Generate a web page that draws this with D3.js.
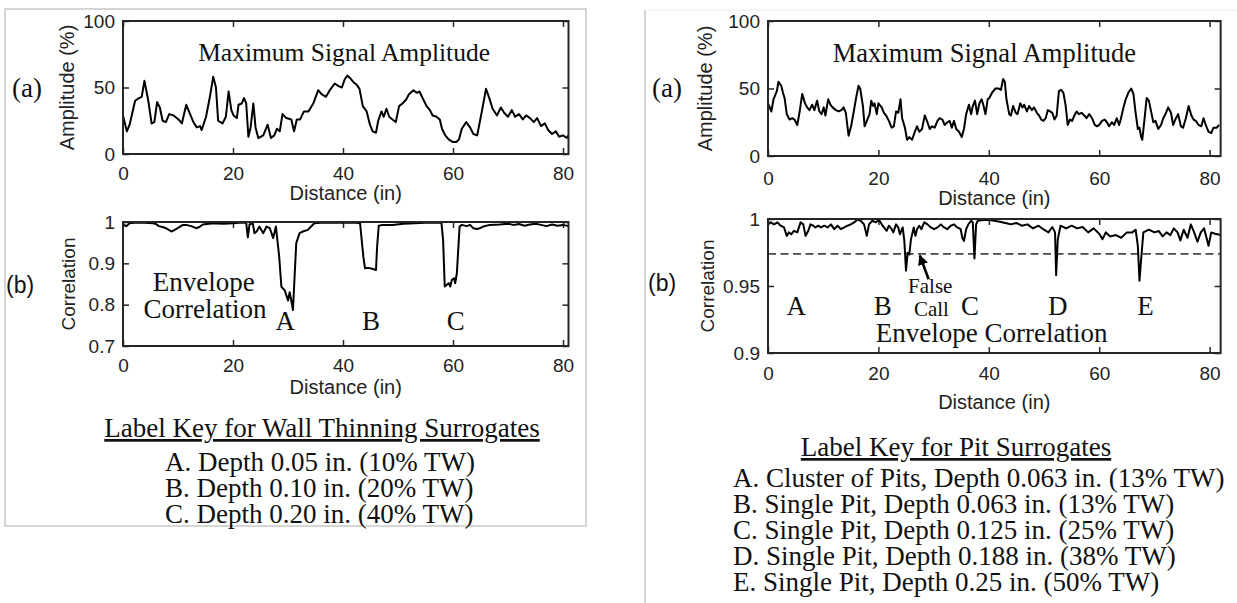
<!DOCTYPE html>
<html><head><meta charset="utf-8">
<script src="https://cdn.jsdelivr.net/npm/d3@7"></script>
<style>body{margin:0;background:#fff}svg{display:block}</style>
</head><body>
<svg id="c" width="1237" height="603"></svg>
<script>
// ---------------- DATA ----------------
const xTicks = [0, 20, 40, 60, 80];
const ampTicks = [0, 50, 100];
const corrWallTicks = [0.7, 0.8, 0.9, 1];
const corrPitTicks = [0.9, 0.95, 1];

// Wall thinning: maximum signal amplitude (%), [distance in, amplitude]
const ampWall = [[0,29],[0.7,17],[1.2,22],[2.2,40],[2.9,42],[3.4,43],[3.9,55],[4.6,40],[5.2,23],[5.7,24],[6.2,39],[6.7,35],[7.2,25],[7.8,24],[8.4,30],[9.2,29],[10.1,26],[10.7,23],[11.5,37],[12.2,30],[12.8,24],[13.4,20],[14.0,21],[14.3,18],[15.1,28],[15.8,43],[16.4,58],[16.9,50],[17.3,25],[18.1,23],[18.7,28],[19.2,47],[19.7,33],[20.1,29],[20.7,27],[21.0,37],[21.6,38],[22.0,42],[22.4,38],[22.8,13],[23.2,20],[23.7,38],[24.1,20],[24.6,12],[25.5,14],[26.3,22],[26.9,12],[27.5,14],[28.0,19],[28.5,17],[29.0,30],[29.7,27],[30.6,26],[31.1,17],[31.6,26],[32.2,26],[32.9,32],[33.7,32],[34.6,38],[35.5,48],[36.1,45],[36.9,43],[37.6,48],[38.5,53],[39.2,51],[39.8,50],[40.3,56],[40.8,59],[41.3,57],[41.9,54],[42.5,52],[43.0,49],[43.6,36],[44.3,32],[44.9,22],[45.4,17],[46.0,16],[46.4,25],[47.0,32],[47.4,28],[47.9,34],[48.4,28],[49.0,26],[49.6,24],[50.2,36],[50.8,38],[51.5,41],[52.0,45],[52.8,48],[53.4,46],[53.9,47],[54.6,41],[55.2,36],[55.8,33],[56.3,29],[57.0,28],[57.6,26],[58.0,19],[58.6,14],[59.2,11],[60.0,9],[60.6,9],[61.1,11],[61.6,19],[62.4,24],[63.1,20],[63.7,15],[64.4,14],[65.2,31],[66.0,49],[66.6,42],[67.2,34],[68.0,29],[68.7,35],[69.3,31],[70.0,28],[70.7,33],[71.3,28],[72.0,30],[72.7,26],[73.3,29],[74.0,27],[74.7,24],[75.3,27],[76.0,21],[76.7,23],[77.3,18],[78.0,15],[78.7,17],[79.3,13],[80.0,14],[80.7,12],[81.0,14]];

// Wall thinning: envelope correlation
const corrWall = [[0,.994],[0.6,.99],[1.2,.997],[2,.998],[4,.998],[5.5,.997],[6,.995],[6.5,.99],[7.2,.988],[7.8,.985],[8.8,.977],[9.4,.981],[10.3,.988],[10.9,.993],[11.5,.993],[12.4,.99],[13.3,.985],[13.9,.988],[14.5,.994],[16.4,.997],[18.2,.996],[20,.997],[21.2,.998],[22.4,.998],[22.7,.963],[23.0,.994],[23.6,.997],[23.9,.973],[24.3,.977],[24.8,.989],[25.5,.973],[26.1,.989],[26.7,.985],[27.3,.961],[27.8,.989],[28.4,.916],[28.8,.843],[29.4,.835],[30.0,.81],[30.3,.83],[30.6,.81],[30.9,.787],[31.2,.868],[31.5,.949],[32.1,.973],[32.7,.977],[33.6,.981],[34.2,.989],[34.8,.997],[36,.998],[38,.998],[40,.998],[42.4,.998],[43.1,.997],[43.7,.916],[44.0,.888],[44.6,.889],[45.3,.887],[46.0,.884],[46.2,.94],[46.5,.991],[47.2,.993],[49,.993],[51,.996],[53,.997],[55,.998],[57.9,.998],[58.2,.956],[58.5,.844],[59.2,.852],[59.5,.844],[59.8,.86],[60.2,.864],[60.4,.852],[60.7,.876],[61.2,.989],[61.6,.993],[62.5,.99],[63.1,.993],[63.7,.985],[64.3,.983],[64.9,.985],[65.5,.989],[66.7,.993],[68.5,.994],[70,.996],[71,.993],[72,.995],[73,.991],[74,.994],[75,.996],[76,.993],[77,.99],[78,.994],[79,.991],[80,.993],[81,.99]];

// Pits: maximum signal amplitude (%)
const ampPit = [[0,39],[0.6,33],[1.0,42],[1.6,48],[1.9,55],[2.4,52],[2.7,47],[3.0,43],[3.4,31],[3.9,27],[4.4,28],[4.8,27],[5.3,23],[5.7,32],[6.2,46],[6.7,39],[7.1,36],[7.5,34],[8.0,38],[8.4,34],[8.9,41],[9.3,33],[9.7,31],[10.1,36],[10.4,30],[10.9,42],[11.3,38],[11.7,36],[12.3,34],[12.8,33],[13.3,34],[13.7,36],[14.1,32],[14.6,15],[15.1,23],[15.5,32],[16.0,44],[16.4,52],[16.7,50],[17.2,37],[17.5,22],[18.0,27],[18.4,31],[18.7,41],[19.0,37],[19.3,39],[19.7,31],[20.0,39],[20.6,36],[21.0,32],[21.4,30],[21.9,26],[22.4,21],[22.8,22],[23.2,33],[23.6,32],[24.0,42],[24.3,28],[24.8,21],[25.2,12],[25.6,14],[26.1,12],[26.6,18],[27.0,22],[27.4,18],[27.9,20],[28.4,30],[28.8,26],[29.3,20],[29.7,22],[30.2,21],[30.7,26],[31.1,28],[31.6,27],[32.0,23],[32.5,25],[32.9,26],[33.3,21],[33.7,26],[34.1,20],[34.6,18],[35.1,14],[35.5,20],[35.9,31],[36.4,38],[36.8,31],[37.1,37],[37.5,41],[37.9,31],[38.3,39],[38.7,42],[39.0,38],[39.4,31],[39.8,42],[40.1,43],[40.6,47],[41.2,50],[41.8,50],[42.2,49],[42.6,57],[42.9,55],[43.2,42],[43.7,31],[44.0,30],[44.4,37],[44.9,32],[45.2,31],[45.7,39],[46.1,36],[46.4,38],[46.9,33],[47.3,37],[47.8,34],[48.2,36],[48.7,32],[49.1,30],[49.5,27],[49.9,26],[50.3,28],[50.7,34],[51.1,33],[51.5,32],[51.9,27],[52.3,30],[52.7,48],[53.1,49],[53.5,47],[53.9,38],[54.3,23],[54.7,27],[55.1,26],[55.5,30],[55.9,33],[56.3,31],[56.8,32],[57.3,30],[57.7,28],[58.2,31],[58.7,28],[59.2,23],[59.6,22],[60.0,23],[60.5,26],[61.0,27],[61.4,25],[61.8,22],[62.3,25],[62.7,23],[63.2,28],[63.6,23],[63.9,27],[64.4,36],[64.8,42],[65.3,47],[65.8,50],[66.2,46],[66.6,32],[67.0,20],[67.3,21],[67.6,14],[67.8,12],[68.2,27],[68.6,43],[69.0,41],[69.5,31],[69.8,25],[70.2,26],[70.7,20],[71.2,23],[71.6,28],[72.0,31],[72.5,36],[73.0,32],[73.4,23],[73.9,28],[74.3,31],[74.8,22],[75.2,21],[75.7,28],[76.2,37],[76.7,30],[77.1,27],[77.5,26],[78.0,23],[78.5,22],[78.9,28],[79.3,23],[79.8,18],[80.3,17],[80.7,21],[81.3,21],[81.7,23]];

// Pits: envelope correlation
const corrPit = [[0,.996],[0.5,.9975],[1.1,.996],[1.7,.9975],[2.3,.995],[2.9,.9937],[3.4,.9874],[3.8,.99],[4.2,.9886],[4.7,.9912],[5.3,.99],[5.9,.9975],[6.4,.996],[6.8,.9874],[7.3,.9912],[7.7,.996],[8.2,.995],[8.6,.9937],[9.1,.995],[9.6,.9937],[10.2,.995],[10.8,.9937],[11.4,.996],[12,.9924],[12.6,.995],[13.2,.9924],[13.8,.9937],[14.4,.995],[15,.996],[15.6,.9975],[16.2,.9995],[16.8,.9987],[17.4,.996],[17.9,.9874],[18.3,.996],[18.9,.9987],[19.5,.9975],[20.1,.9995],[20.6,.996],[21,.9937],[21.5,.9912],[21.9,.995],[22.4,.9924],[22.7,.99],[23.2,.996],[23.6,.9937],[23.9,.9886],[24.4,.9937],[24.7,.9836],[25.0,.9615],[25.3,.9748],[25.6,.9735],[25.9,.9849],[26.4,.9937],[26.7,.9874],[27,.9924],[27.4,.995],[27.8,.9924],[28.3,.9975],[28.9,.996],[29.5,.9937],[30.1,.9924],[30.7,.9937],[31.3,.996],[31.9,.9937],[32.5,.9924],[33.1,.995],[33.7,.996],[34.3,.9937],[34.9,.9924],[35.2,.986],[35.5,.9836],[35.9,.9924],[36.3,.996],[36.8,.9987],[37.1,.9975],[37.4,.9705],[37.7,.996],[38,.9987],[38.6,.999],[39.8,.9995],[41,.9987],[42,.998],[43,.997],[44,.996],[45,.997],[46,.995],[47,.996],[48,.993],[49,.995],[50,.992],[50.8,.99],[51.5,.994],[52.0,.99],[52.2,.958],[52.5,.985],[53,.995],[54,.993],[55,.995],[56,.993],[57,.994],[58,.99],[59,.993],[60,.989],[60.6,.985],[61.2,.99],[62,.987],[63,.988],[64,.986],[65,.99],[66,.99],[66.6,.992],[67.0,.98],[67.3,.954],[67.6,.97],[68,.99],[69,.992],[70,.99],[70.8,.991],[71.5,.987],[72.2,.99],[72.9,.988],[73.5,.993],[74.2,.99],[74.7,.984],[75.3,.992],[76,.986],[76.6,.996],[77.2,.99],[77.8,.983],[78.4,.99],[79,.993],[79.5,.985],[79.8,.98],[80.3,.99],[81,.989],[82,.988]];

const falseCallThreshold = 0.974;
const wallLabels = ["A", "B", "C"];
const wallLabelPos = [29.5, 45.1, 60.5];
const pitLabels = ["A", "B", "C", "D", "E"];
const pitLabelPos = [5.1, 20.8, 36.6, 52.5, 68.4];
const wallKeyTitle = "Label Key for Wall Thinning Surrogates";
const wallKey = ["A. Depth 0.05 in. (10% TW)", "B. Depth 0.10 in. (20% TW)", "C. Depth 0.20 in. (40% TW)"];
const pitKeyTitle = "Label Key for Pit Surrogates";
const pitKey = ["A. Cluster of Pits, Depth 0.063 in. (13% TW)", "B. Single Pit, Depth 0.063 in. (13% TW)", "C. Single Pit, Depth 0.125 in. (25% TW)", "D. Single Pit, Depth 0.188 in. (38% TW)", "E. Single Pit, Depth 0.25 in. (50% TW)"];

// ---------------- DRAW ----------------
const SANS = "'Liberation Sans', Arial, sans-serif";
const SERIF = "'Liberation Serif', 'Times New Roman', serif";
const svg = d3.select("#c");
svg.append("rect").attr("width", 1237).attr("height", 603).attr("fill", "#fff");

// panel frames
svg.append("rect").attr("x", 5).attr("y", 9).attr("width", 581).attr("height", 517)
  .attr("fill", "none").attr("stroke", "#c8c8c8").attr("stroke-width", 1.5);
svg.append("line").attr("x1", 645).attr("x2", 645).attr("y1", 10).attr("y2", 603)
  .attr("stroke", "#c8c8c8").attr("stroke-width", 1.5);
svg.append("line").attr("x1", 645).attr("x2", 1237).attr("y1", 10).attr("y2", 10)
  .attr("stroke", "#ececec").attr("stroke-width", 1);

const fmt = d => String(d);

function plot(cfg) {
  const g = svg.append("g");
  const x = d3.scaleLinear().domain(cfg.xDomain).range(cfg.xRange);
  const y = d3.scaleLinear().domain(cfg.yDomain).range(cfg.yRange);
  const [x0, x1] = cfg.xRange, [yb, yt] = cfg.yRange;
  const style = a => a.attr("font-size", 19).attr("font-family", SANS).attr("fill", "#222")
    .call(s => s.select(".domain").remove())
    .call(s => s.selectAll(".tick line").attr("stroke", "#262626").attr("stroke-width", 1.5))
    .call(s => s.selectAll(".tick text").attr("fill", "#222"));
  g.append("g").attr("transform", `translate(0,${yb})`)
    .call(d3.axisBottom(x).tickValues(xTicks).tickSize(-6).tickPadding(cfg.xPad).tickFormat(fmt)).call(style);
  g.append("g").attr("transform", `translate(0,${yt})`)
    .call(d3.axisTop(x).tickValues(xTicks).tickSize(-6).tickFormat("")).call(style);
  g.append("g").attr("transform", `translate(${x0},0)`)
    .call(d3.axisLeft(y).tickValues(cfg.yTicks).tickSize(-6).tickPadding(8).tickFormat(fmt)).call(style);
  g.append("g").attr("transform", `translate(${x1},0)`)
    .call(d3.axisRight(y).tickValues(cfg.yTicks).tickSize(-6).tickFormat("")).call(style);
  if (cfg.threshold !== undefined) {
    g.append("line").attr("x1", x0).attr("x2", x1).attr("y1", y(cfg.threshold)).attr("y2", y(cfg.threshold))
      .attr("stroke", "#4a4a4a").attr("stroke-width", 1.8).attr("stroke-dasharray", "8,4.5");
  }
  g.append("path").datum(cfg.data)
    .attr("d", d3.line().x(d => x(d[0])).y(d => y(d[1])))
    .attr("fill", "none").attr("stroke", "#000").attr("stroke-width", 2).attr("stroke-linejoin", "round");
  g.append("rect").attr("x", x0).attr("y", yt).attr("width", x1 - x0).attr("height", yb - yt)
    .attr("fill", "none").attr("stroke", "#262626").attr("stroke-width", 2);
  g.append("text").attr("x", (x0 + x1) / 2).attr("y", cfg.xLabY).attr("text-anchor", "middle")
    .attr("font-family", SANS).attr("font-size", 20).attr("fill", "#222").text("Distance (in)");
  g.append("text").attr("transform", `translate(${cfg.yLabX},${(yt + yb) / 2}) rotate(-90)`)
    .attr("text-anchor", "middle").attr("font-family", SANS).attr("font-size", cfg.yLabSize || 20).attr("fill", "#222").text(cfg.yLabel);
  return {x, y, g};
}

// ---- Left panel ----
const lt = plot({xDomain: [0, 81], xRange: [123, 123 + 81 * 5.5], yDomain: [0, 100], yRange: [154, 21],
  yTicks: ampTicks, data: ampWall, xPad: 13, xLabY: 200, yLabX: 74, yLabel: "Amplitude (%)"});
const lb = plot({xDomain: [0, 81], xRange: [123, 123 + 81 * 5.5], yDomain: [0.7, 1], yRange: [346, 222],
  yTicks: corrWallTicks, data: corrWall, xPad: 13, xLabY: 394, yLabX: 75, yLabel: "Correlation", yLabSize: 19});

// ---- Right panel ----
const rt = plot({xDomain: [0, 82], xRange: [768, 768 + 82 * 5.52], yDomain: [0, 100], yRange: [156, 21],
  yTicks: ampTicks, data: ampPit, xPad: 16, xLabY: 205, yLabX: 712, yLabel: "Amplitude (%)"});
const rb = plot({xDomain: [0, 82], xRange: [768, 768 + 82 * 5.52], yDomain: [0.9, 1], yRange: [353, 219],
  yTicks: corrPitTicks, data: corrPit, xPad: 14, xLabY: 409, yLabX: 714, yLabel: "Correlation", yLabSize: 19,
  threshold: falseCallThreshold});

function txt(x, y, s, size, fam, anchor) {
  return svg.append("text").attr("x", x).attr("y", y).attr("font-size", size).attr("font-family", fam)
    .attr("text-anchor", anchor || "middle").attr("fill", "#111").text(s);
}

// titles inside top plots
txt(lt.x(40.2), 61, "Maximum Signal Amplitude", 25.5, SERIF);
txt(rt.x(39.2), 62, "Maximum Signal Amplitude", 26.5, SERIF);

// panel letters
txt(12, 97, "(a)", 27, SERIF, "start");
txt(652, 97, "(a)", 27, SERIF, "start");
txt(6, 293, "(b)", 23, SANS, "start");
txt(648, 291, "(b)", 23, SANS, "start");

// left bottom annotations
txt(lb.x(14.7), 291, "Envelope", 27, SERIF);
txt(lb.x(14.9), 318, "Correlation", 27, SERIF);
wallLabels.forEach((l, i) => txt(lb.x(wallLabelPos[i]), 330, l, 27, SERIF));

// right bottom annotations
pitLabels.forEach((l, i) => txt(rb.x(pitLabelPos[i]), 315, l, 27, SERIF));
txt(rb.x(29.4), 293, "False", 21, SERIF);
txt(rb.x(29.6), 316, "Call", 21, SERIF);
txt(rb.x(40.5), 342, "Envelope Correlation", 27, SERIF);

// arrow
svg.append("defs").append("marker").attr("id", "ah").attr("viewBox", "0 0 10 10").attr("refX", 9).attr("refY", 5)
  .attr("markerWidth", 4).attr("markerHeight", 4).attr("orient", "auto")
  .append("path").attr("d", "M0,0 L10,5 L0,10 z").attr("fill", "#000");
svg.append("line").attr("x1", rb.x(29.1)).attr("y1", rb.y(0.955)).attr("x2", rb.x(27.5)).attr("y2", rb.y(0.9728))
  .attr("stroke", "#000").attr("stroke-width", 2.6).attr("marker-end", "url(#ah)");

// keys
txt(322, 437, wallKeyTitle, 27, SERIF).attr("text-decoration", "underline");
wallKey.forEach((s, i) => txt(165, 471 + i * 26, s, 27, SERIF, "start"));
txt(956, 456, pitKeyTitle, 27, SERIF).attr("text-decoration", "underline");
pitKey.forEach((s, i) => txt(733, 487 + i * 26, s, 27, SERIF, "start"));
</script>
</body></html>
